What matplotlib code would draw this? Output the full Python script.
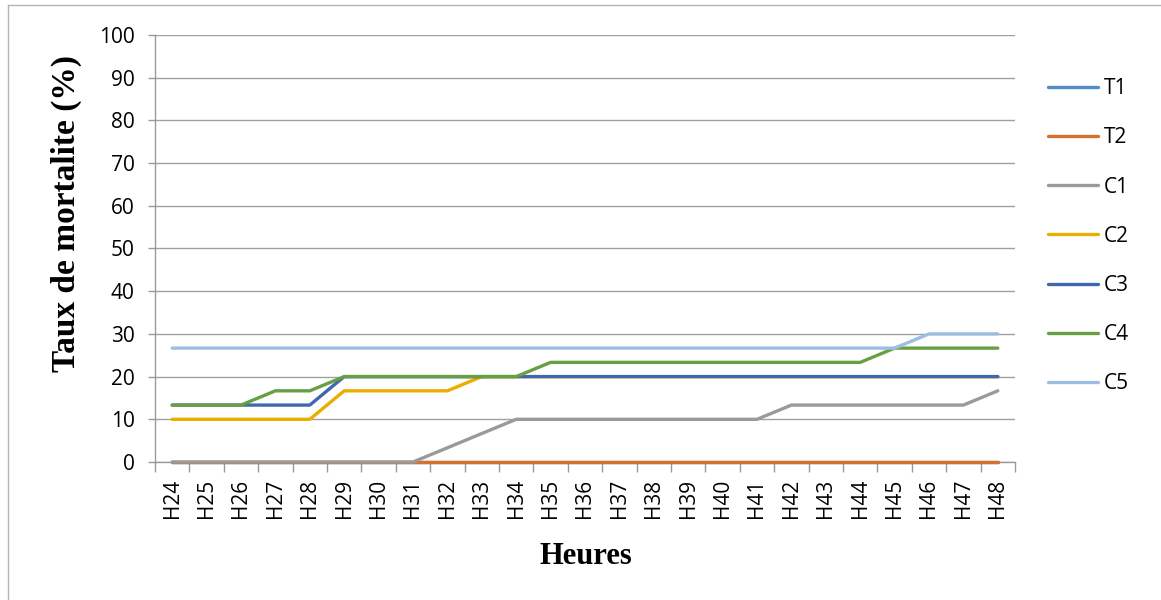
import matplotlib.pyplot as plt
from matplotlib.lines import Line2D
import numpy as np

# hours of observation and mortality rate (%) for each lot
heures = ["H%d" % h for h in range(24, 49)]
T1 = [0]*25
T2 = [0]*25
C1 = [0, 0, 0, 0, 0, 0, 0, 0, 3.33, 6.67, 10, 10, 10, 10, 10, 10, 10, 10,
      13.33, 13.33, 13.33, 13.33, 13.33, 13.33, 16.67]
C2 = [10, 10, 10, 10, 10, 16.67, 16.67, 16.67, 16.67, 20, 20, 20, 20, 20,
      20, 20, 20, 20, 20, 20, 20, 20, 20, 20, 20]
C3 = [13.33, 13.33, 13.33, 13.33, 13.33, 20, 20, 20, 20, 20, 20, 20, 20, 20,
      20, 20, 20, 20, 20, 20, 20, 20, 20, 20, 20]
C4 = [13.33, 13.33, 13.33, 16.67, 16.67, 20, 20, 20, 20, 20, 20, 23.33,
      23.33, 23.33, 23.33, 23.33, 23.33, 23.33, 23.33, 23.33, 23.33, 26.67,
      26.67, 26.67, 26.67]
C5 = [26.67]*22 + [30, 30, 30]

series = [("T1", T1, "#4f8bc6"), ("T2", T2, "#d6702c"), ("C1", C1, "#9a9a9a"),
          ("C2", C2, "#e9ae00"), ("C3", C3, "#3f68ae"), ("C4", C4, "#67a043"),
          ("C5", C5, "#9dbee2")]

fig = plt.figure(figsize=(11.61, 6), dpi=100)
ax = fig.add_axes([155/1161, 1-462/600, 860/1161, 427/600])

x = np.arange(len(heures))
for name, vals, col in series:
    ax.plot(x, vals, color=col, lw=2.4, label=name, solid_capstyle="round",
            solid_joinstyle="round", zorder=3, clip_on=False)

ax.set_xlim(-0.5, len(heures)-0.5)
ax.set_ylim(0, 100)
ax.set_yticks(np.arange(0, 101, 10))
ax.set_xticks(x)
ax.set_xticklabels(heures, rotation=90, fontsize=15, family="Open Sans")
ax.set_xticks(np.arange(-0.5, len(heures), 1), minor=True)
ax.tick_params(axis="x", which="major", length=0, pad=12)
ax.tick_params(axis="x", which="minor", length=7, color="#9a9a9a", width=1)
ax.tick_params(axis="y", length=5, color="#9a9a9a", width=1, pad=9.5)
for lab in ax.get_yticklabels():
    lab.set_fontsize(15)
    lab.set_family("Open Sans")

ax.grid(axis="y", color="#a0a0a0", lw=1, zorder=0)
for s in ["top", "right"]:
    ax.spines[s].set_visible(False)
for s in ["left", "bottom"]:
    ax.spines[s].set_color("#9a9a9a")
    ax.spines[s].set_linewidth(1)

ax.set_ylabel("Taux de mortalite (%)", family="Liberation Serif",
              fontweight="bold", fontsize=24)
ax.yaxis.set_label_coords(-(155-66)/860, (462-214)/427)
ax.set_xlabel("Heures", family="Liberation Serif", fontweight="bold",
              fontsize=22)
ax.xaxis.set_label_coords((586-155)/860, -(556-462)/427)
ax.xaxis.label.set_va("center")
ax.yaxis.label.set_va("center")

fig.legend(loc="upper left", bbox_to_anchor=(1040/1161, 1-70/600),
           frameon=False, prop={"family": "Open Sans", "size": 15},
           handlelength=2.4, handletextpad=0.25, labelspacing=1.35,
           borderaxespad=0)

# light frame around the chart area
fig.add_artist(Line2D([8/1161, 1], [1-5/600, 1-5/600], color="#b5b5b5", lw=1))
fig.add_artist(Line2D([8/1161, 8/1161], [0, 1-5/600], color="#b5b5b5", lw=1))

fig.savefig("out.png", dpi=100)
